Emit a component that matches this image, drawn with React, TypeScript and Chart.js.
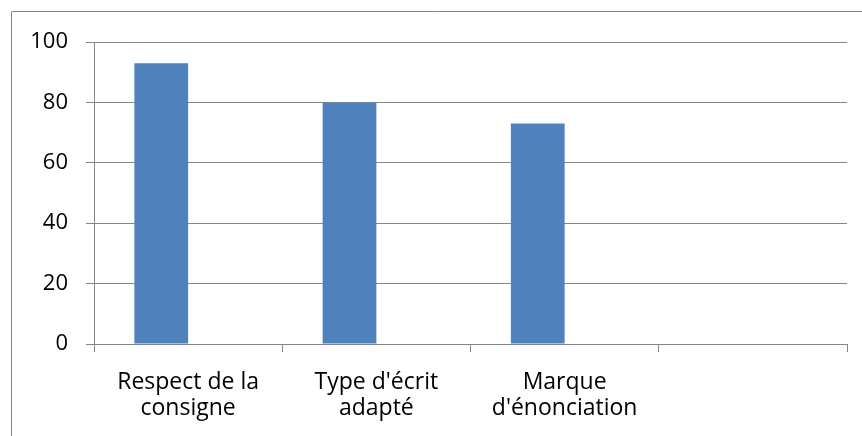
import React, { useEffect, useRef } from "react";
import { Chart, registerables } from "chart.js";

Chart.register(...registerables);

const categories: (string | string[])[] = [
  ["Respect de la", "consigne"],
  ["Type d'écrit", "adapté"],
  ["Marque", "d'énonciation"],
  "",
];
const seriesValues: (number | null)[] = [93, 80, 73, null];
const emptySeries: (number | null)[] = [null, null, null, null];
const yTicks = [0, 20, 40, 60, 80, 100];

const W = 862;
const H = 436;
const AREA_LEFT = 94;
const AREA_RIGHT = 847;
const AREA_TOP = 42;
const AREA_BOTTOM = 344;
const GRID = "#868686";
const FONT = "'Open Sans', 'Noto Sans', sans-serif";

const framePlugin = {
  id: "frame",
  beforeDraw(chart: any) {
    const ctx = chart.ctx;
    ctx.save();
    ctx.fillStyle = "#ffffff";
    ctx.fillRect(0, 0, W, H);
    ctx.strokeStyle = GRID;
    ctx.lineWidth = 1;
    ctx.beginPath();
    ctx.moveTo(11.5, H);
    ctx.lineTo(11.5, 11.5);
    ctx.lineTo(W, 11.5);
    ctx.stroke();
    ctx.restore();
  },
};

export default function App() {
  const ref = useRef<HTMLCanvasElement | null>(null);
  useEffect(() => {
    if (!ref.current) return;
    const chart = new Chart(ref.current, {
      type: "bar",
      data: {
        labels: categories,
        datasets: [
          {
            data: seriesValues,
            backgroundColor: "#4F81BD",
            borderWidth: 0,
            categoryPercentage: 0.571,
            barPercentage: 1,
          },
          {
            data: emptySeries,
            backgroundColor: "#C0504D",
            borderWidth: 0,
            categoryPercentage: 0.571,
            barPercentage: 1,
          },
        ],
      },
      options: {
        animation: false,
        responsive: false,
        maintainAspectRatio: false,
        devicePixelRatio: 1,
        layout: {
          padding: { left: 0, right: W - AREA_RIGHT, top: AREA_TOP, bottom: 0 },
        },
        plugins: {
          legend: { display: false },
          tooltip: { enabled: false },
        },
        scales: {
          x: {
            offset: true,
            grid: {
              offset: true,
              drawOnChartArea: false,
              drawTicks: true,
              tickLength: 8,
              color: GRID,
            },
            border: { display: true, color: GRID, width: 1 },
            ticks: {
              color: "#000000",
              font: { family: FONT, size: 23, lineHeight: 1.12 },
              padding: 18,
              maxRotation: 0,
              autoSkip: false,
            },
            afterFit(scale: any) {
              scale.height = H - AREA_BOTTOM;
            },
          },
          y: {
            min: 0,
            max: 100,
            afterBuildTicks(scale: any) {
              scale.ticks = yTicks.map((v) => ({ value: v }));
            },
            grid: {
              drawTicks: true,
              tickLength: 8,
              color: GRID,
            },
            border: { display: true, color: GRID, width: 1 },
            ticks: {
              color: "#000000",
              font: { family: FONT, size: 22 },
              padding: 18,
            },
            afterFit(scale: any) {
              scale.width = AREA_LEFT;
            },
          },
        },
      },
      plugins: [framePlugin],
    });
    return () => chart.destroy();
  }, []);
  return (
    <div style={{ position: "fixed", left: 0, top: 0, width: W, height: H, background: "#fff" }}>
      <canvas ref={ref} width={W} height={H} style={{ width: W, height: H, display: "block" }} />
    </div>
  );
}
